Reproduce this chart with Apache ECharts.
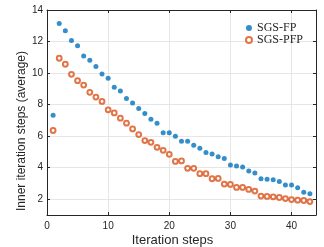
<!DOCTYPE html>
<html><head><meta charset="utf-8">
<script src="https://cdn.jsdelivr.net/npm/echarts@6/dist/echarts.min.js"></script>
<style>html,body{margin:0;padding:0;background:#fff}#c{width:324px;height:247px}</style>
</head><body><div id="c"></div>
<script>
const steps = [1,2,3,4,5,6,7,8,9,10,11,12,13,14,15,16,17,18,19,20,21,22,23,24,25,26,27,28,29,30,31,32,33,34,35,36,37,38,39,40,41,42,43];
const sgsFP = [7.32,13.15,12.68,12.07,11.73,11.09,10.82,10.41,9.94,9.67,9.10,8.86,8.39,8.10,7.76,7.44,7.07,6.82,6.21,6.21,6.00,5.68,5.68,5.42,5.23,4.96,4.87,4.70,4.59,4.17,4.11,4.04,3.79,3.66,3.30,3.26,3.24,3.13,2.90,2.90,2.73,2.45,2.34];
const sgsPFP = [6.36,10.94,10.56,9.92,9.52,9.24,8.78,8.48,8.20,7.67,7.47,7.14,6.82,6.46,6.10,5.72,5.61,5.29,5.10,4.85,4.40,4.43,3.96,3.96,3.62,3.62,3.30,3.32,2.96,2.94,2.75,2.75,2.62,2.52,2.20,2.18,2.15,2.11,2.04,1.98,1.94,1.92,1.85];
const xTicks = [0,10,20,30,40];
const yTicks = [2,4,6,8,10,12,14];
const xTitle = 'Iteration steps';
const yTitle = 'Inner iteration steps (average)';

const axisColor = '#262626';
const gridColor = '#e6e6e6';
const font = 'Liberation Sans';

const chart = echarts.init(document.getElementById('c'), null, {renderer:'canvas'});
const xBase = (pos, labels) => ({
  type:'value', position:pos, min:0, max:44,
  axisLine:{show:true, onZero:false, lineStyle:{color:axisColor, width:1}},
  axisTick:{show:true, inside:true, length:3, customValues:xTicks, lineStyle:{color:axisColor}},
  axisLabel:{show:labels, color:axisColor, fontFamily:font, fontSize:10, margin:6, customValues:xTicks},
  splitLine:{show:labels, lineStyle:{color:gridColor, width:1}}
});
const yBase = (pos, labels) => ({
  type:'value', position:pos, min:1, max:14,
  axisLine:{show:true, onZero:false, lineStyle:{color:axisColor, width:1}},
  axisTick:{show:true, inside:true, length:3, customValues:yTicks, lineStyle:{color:axisColor}},
  axisLabel:{show:labels, color:axisColor, fontFamily:font, fontSize:10, margin:4, customValues:yTicks},
  splitLine:{show:labels, lineStyle:{color:gridColor, width:1}}
});

chart.setOption({
  animation:false,
  grid:{left:47, right:8, top:10, bottom:32, containLabel:false},
  xAxis:[xBase('bottom', true), xBase('top', false)],
  yAxis:[yBase('left', true), yBase('right', false)],
  legend:{
    orient:'vertical', right:16, top:17, itemGap:0, itemWidth:8, itemHeight:6,
    textStyle:{fontFamily:'Liberation Serif', fontSize:12, color:axisColor, padding:[0,0,0,-1]},
    data:[{name:'SGS-FP', icon:'circle', itemStyle:{color:'#0072BD'}},{name:'SGS-PFP', icon:'emptyCircle'}]
  },
  graphic:[
    {type:'text', x:172.5, y:240, style:{text:xTitle, font:'13px "Liberation Sans"', fill:axisColor, align:'center', verticalAlign:'middle'}},
    {type:'text', x:21.7, y:131, rotation:Math.PI/2, style:{text:yTitle, font:'12px "Liberation Sans"', fill:axisColor, align:'center', verticalAlign:'middle'}}
  ],
  series:[
    {name:'SGS-FP', type:'scatter', xAxisIndex:0, yAxisIndex:0, symbol:'circle', symbolSize:5,
      itemStyle:{color:'#0072BD'}, data:steps.map((s,i)=>[s, sgsFP[i]])},
    {name:'SGS-PFP', type:'scatter', xAxisIndex:0, yAxisIndex:0, symbol:'emptyCircle', symbolSize:4.8,
      itemStyle:{color:'#D95319', borderColor:'#D95319', borderWidth:1.15}, data:steps.map((s,i)=>[s, sgsPFP[i]])}
  ]
});
</script></body></html>
